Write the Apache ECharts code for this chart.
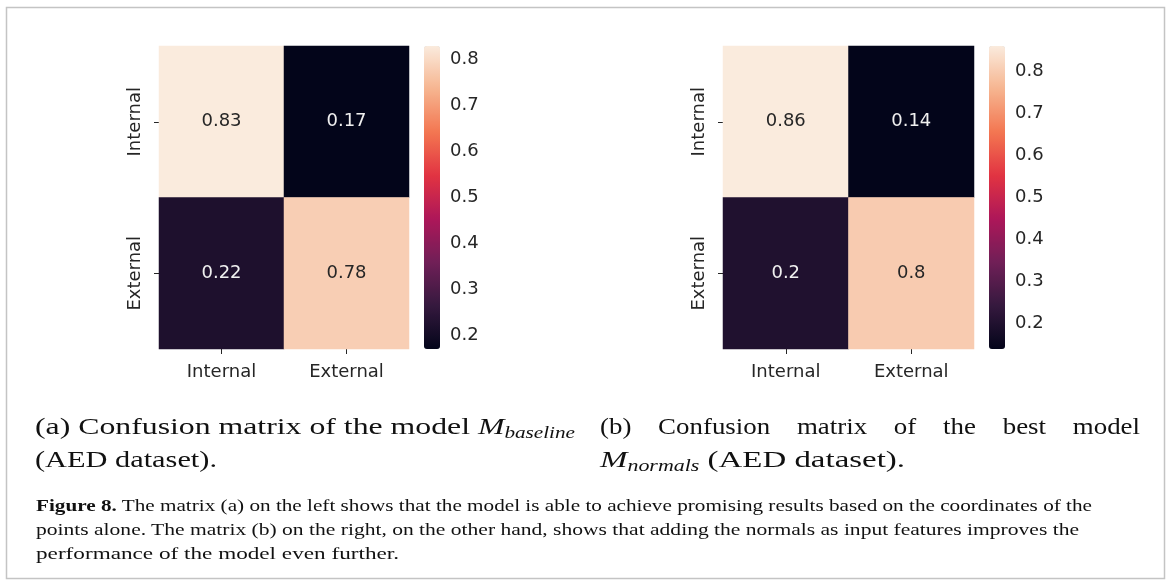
<!DOCTYPE html>
<html><head><meta charset="utf-8">
<script src="https://cdn.jsdelivr.net/npm/echarts@6/dist/echarts.min.js"></script>
<style>
html,body{margin:0;padding:0;background:#fff;}
#wrap{position:relative;width:1171px;height:584px;overflow:hidden;background:#fff;}
#chart{position:absolute;left:0;top:0;width:1171px;height:584px;}
#cap{position:absolute;left:0;top:0;width:1171px;height:584px;pointer-events:none;}
</style></head><body>
<div id="wrap">
<div id="chart"></div>
<svg id="cap" width="1171" height="584" xmlns="http://www.w3.org/2000/svg" font-family="Liberation Serif" fill="#111">
  <rect x="6.5" y="7.5" width="1158" height="571" fill="none" stroke="#c4c4c4" stroke-width="1.5"/>
  <text x="35" y="434" font-size="24" textLength="540" lengthAdjust="spacingAndGlyphs">(a) Confusion matrix of the model <tspan font-style="italic">M</tspan><tspan font-style="italic" font-size="16" dy="4">baseline</tspan></text>
  <text x="35" y="467" font-size="24" textLength="182" lengthAdjust="spacingAndGlyphs">(AED dataset).</text>
  <g id="bline"></g>
  <text x="600" y="467" font-size="24" textLength="305" lengthAdjust="spacingAndGlyphs"><tspan font-style="italic">M</tspan><tspan font-style="italic" font-size="16" dy="4">normals</tspan><tspan dy="-4"> (AED dataset).</tspan></text>
  <text x="36" y="511" font-size="17" textLength="1056" lengthAdjust="spacingAndGlyphs"><tspan font-weight="bold">Figure 8.</tspan> The matrix (a) on the left shows that the model is able to achieve promising results based on the coordinates of the</text>
  <text x="36" y="535" font-size="17" textLength="1043" lengthAdjust="spacingAndGlyphs">points alone. The matrix (b) on the right, on the other hand, shows that adding the normals as input features improves the</text>
  <text x="36" y="559" font-size="17" textLength="363" lengthAdjust="spacingAndGlyphs">performance of the model even further.</text>
</svg>
</div>
<script>
// ---- data ----
const categories = ['Internal', 'External'];
const baselineValues = [[0.83, 0.17], [0.22, 0.78]]; // rows: true label, cols: predicted
const normalsValues = [[0.86, 0.14], [0.2, 0.8]];
const colorbarTicks = [0.2, 0.3, 0.4, 0.5, 0.6, 0.7, 0.8];
const rocketColors = ['#03051a', '#35193e', '#701f57', '#ad1759', '#e13342', '#f37651', '#f6b48f', '#faebdd'];
const subcaptionB = ['(b)', 'Confusion', 'matrix', 'of', 'the', 'best', 'model'];

// ---- justified caption (b) first line ----
(function () {
  const g = document.getElementById('bline');
  const ns = 'http://www.w3.org/2000/svg';
  const els = subcaptionB.map(w => {
    const t = document.createElementNS(ns, 'text');
    t.setAttribute('y', 434); t.setAttribute('font-size', 24);
    t.textContent = w; g.appendChild(t); return t;
  });
  const scale = 1.12;
  const widths = els.map(e => e.getComputedTextLength() * scale);
  const total = widths.reduce((a, b) => a + b, 0);
  const x0 = 600, x1 = 1140;
  const gap = (x1 - x0 - total) / (els.length - 1);
  let x = x0;
  els.forEach((e, i) => {
    e.setAttribute('x', x);
    e.setAttribute('textLength', widths[i]);
    e.setAttribute('lengthAdjust', 'spacingAndGlyphs');
    x += widths[i] + gap;
  });
})();

// ---- chart ----
const chart = echarts.init(document.getElementById('chart'), null, { renderer: 'canvas' });
const FONT = 'DejaVu Sans';
const TXT = '#262626';

function cells(matrix) {
  const flat = matrix.flat();
  const mid = (Math.min(...flat) + Math.max(...flat)) / 2;
  const out = [];
  matrix.forEach((row, r) => row.forEach((v, c) => {
    out.push({ value: [c, r, v], label: { color: v > mid ? TXT : '#f0f0f0' } });
  }));
  return out;
}
function range(matrix) {
  const flat = matrix.flat();
  return [Math.min(...flat), Math.max(...flat)];
}

const panels = [
  { values: baselineValues, grid: { left: 159, top: 46, width: 250, height: 303 }, bar: { left: 424, top: 46, width: 16, height: 303 } },
  { values: normalsValues, grid: { left: 723, top: 46, width: 251, height: 303 }, bar: { left: 989, top: 46, width: 16, height: 303 } }
];

const option = { animation: false, grid: [], xAxis: [], yAxis: [], visualMap: [], series: [] };
panels.forEach((p, i) => {
  const [mn, mx] = range(p.values);
  const gi = option.grid.length;
  option.grid.push(p.grid);
  option.grid.push(p.bar);
  option.xAxis.push({
    gridIndex: gi, type: 'category', data: categories, position: 'bottom',
    axisLine: { show: false }, splitLine: { show: false }, splitArea: { show: false },
    axisTick: { show: true, alignWithLabel: true, length: 5, lineStyle: { color: TXT } },
    axisLabel: { fontFamily: FONT, fontSize: 18, color: TXT, margin: 14 }
  });
  option.yAxis.push({
    gridIndex: gi, type: 'category', data: categories, inverse: true,
    axisLine: { show: false }, splitLine: { show: false }, splitArea: { show: false },
    axisTick: { show: true, alignWithLabel: true, length: 5, lineStyle: { color: TXT } },
    axisLabel: { fontFamily: FONT, fontSize: 18, color: TXT, rotate: 90, margin: 15 }
  });
  option.xAxis.push({ gridIndex: gi + 1, type: 'value', show: false });
  option.yAxis.push({
    gridIndex: gi + 1, type: 'value', min: mn, max: mx, position: 'right',
    axisLine: { show: false }, splitLine: { show: false },
    axisTick: { show: true, length: 5, customValues: colorbarTicks, lineStyle: { color: TXT } },
    axisLabel: { customValues: colorbarTicks, fontFamily: FONT, fontSize: 18, color: TXT, margin: 10,
      formatter: v => Number(v).toFixed(1) }
  });
  option.visualMap.push({
    type: 'continuous', seriesIndex: i, min: mn, max: mx,
    left: p.bar.left, top: p.bar.top, itemWidth: p.bar.width, itemHeight: p.bar.height,
    padding: 0, calculable: false, hoverLink: false, realtime: false, text: null, showLabel: false,
    inRange: { color: rocketColors }
  });
  option.series.push({
    type: 'heatmap', xAxisIndex: gi, yAxisIndex: gi, data: cells(p.values),
    itemStyle: { borderWidth: 0 },
    emphasis: { disabled: true },
    label: { show: true, fontFamily: FONT, fontSize: 18, formatter: q => String(q.value[2]) }
  });
});
chart.setOption(option);
</script>
</body></html>
